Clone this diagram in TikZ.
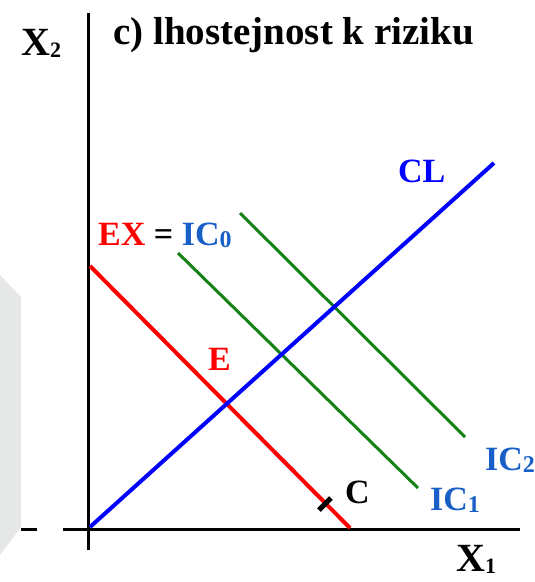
\documentclass[tikz,border=0pt]{standalone}
\usepackage{fontspec}
\setmainfont{Liberation Serif}
\usetikzlibrary{positioning}

\definecolor{icblue}{RGB}{25,95,200}
\definecolor{curvegreen}{RGB}{20,130,20}
\definecolor{panelgrey}{RGB}{230,231,231}

% small lowered index digit: \idx{size}{digit}
\newcommand{\idx}[2]{\raisebox{-2.5pt}{\fontsize{#1}{#1}\selectfont #2}}

\begin{document}
\begin{tikzpicture}[x=1pt, y=-1pt,
    lbl/.style={inner sep=0pt, anchor=base west, font=\fontsize{34}{36}\selectfont\bfseries},
    big/.style={font=\fontsize{40}{42}\selectfont\bfseries},
    axis/.style={line width=3pt, black},
    budget/.style={line width=4pt, red},
    certain/.style={line width=4pt, blue},
    indiff/.style={line width=3pt, curvegreen}]
    \useasboundingbox (0,0) rectangle (535,582);

    % Grey panel edge at the left
    \fill[panelgrey] (0,275) -- (21,297) -- (21,527) -- (0,555) -- cycle;

    % Axes
    \coordinate (ystart) at (88,13);
    \coordinate (yend) at (88,550);
    \coordinate (xstub1) at (21,529);
    \coordinate (xstub2) at (37,529);
    \coordinate (xstart) at (63,529);
    \coordinate (xend) at (520,529);
    \draw[axis] (ystart) -- (yend);
    \draw[axis] (xstub1) -- (xstub2);
    \draw[axis] (xstart) -- (xend);

    % Lines
    \coordinate (origin) at (90,527);
    \coordinate (cltop) at (494,163);
    \coordinate (extop) at (90,266);
    \coordinate (exbot) at (350,528);
    \coordinate (icatop) at (178,253);
    \coordinate (icabot) at (418,488);
    \coordinate (icbtop) at (240,213);
    \coordinate (icbbot) at (465,437);
    \draw[budget] (extop) -- (exbot);
    \draw[indiff] (icatop) -- (icabot);
    \draw[indiff] (icbtop) -- (icbbot);
    \draw[certain] (origin) -- (cltop);

    % Tick at C
    \coordinate (ticka) at (319,510);
    \coordinate (tickb) at (331,498);
    \draw[line width=5pt, black] (ticka) -- (tickb);

    % Labels
    \node[lbl, font=\fontsize{39}{41}\selectfont\bfseries] (title) at (113,44) {c) lhostejnost k riziku};
    \node[lbl, big] (xtwo) at (21,55) {X\idx{22}{2}};
    \node[lbl, big] (xone) at (456,571) {X\idx{22}{1}};
    \node[lbl, blue] (cl) at (398,182) {CL};
    \node[lbl] (exic) at (98,245) {\textcolor{red}{EX} = \textcolor{icblue}{IC\idx{24}{0}}};
    \node[lbl, red] (e) at (208,370) {E};
    \node[lbl] (c) at (345,503) {C};
    \node[lbl, icblue] (icone) at (430,510) {IC\idx{24}{1}};
    \node[lbl, icblue] (ictwo) at (485,470) {IC\idx{24}{2}};
\end{tikzpicture}
\end{document}
